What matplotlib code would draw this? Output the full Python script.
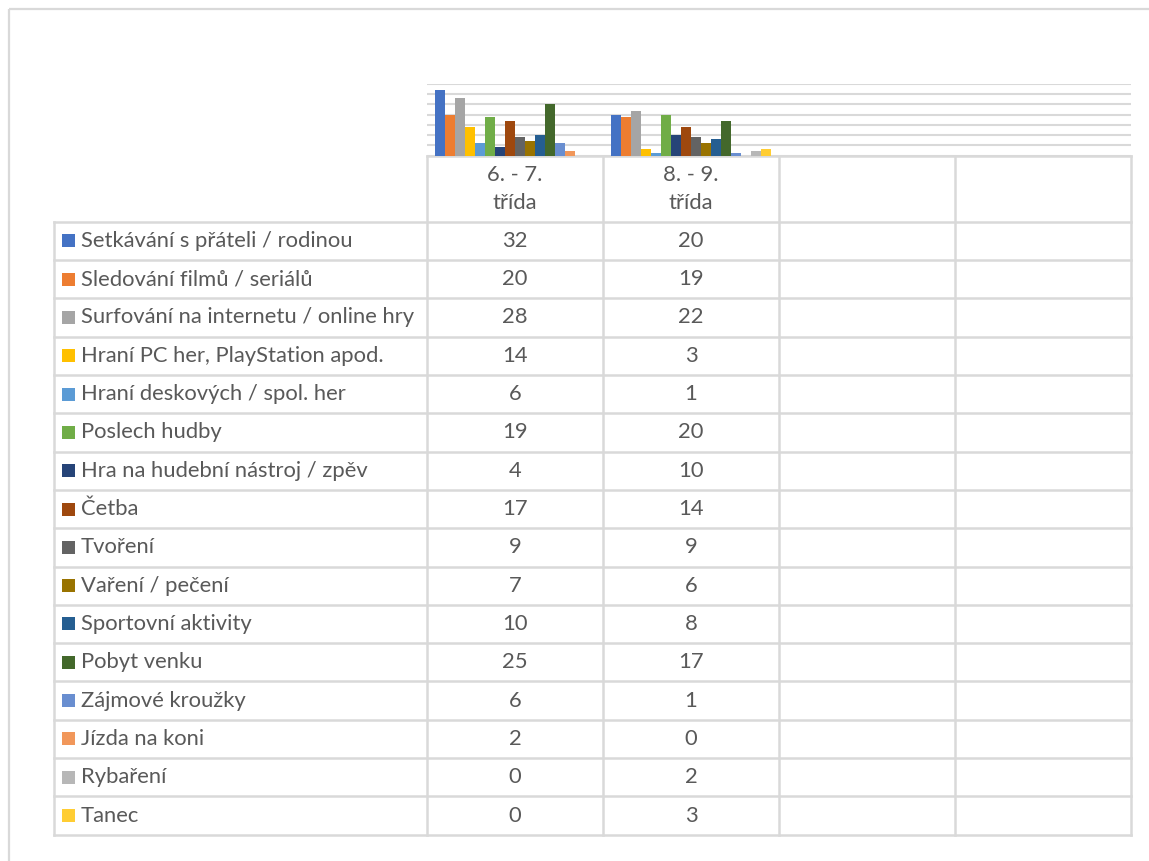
"""Clustered bar chart with an Excel-style data table underneath."""

import matplotlib

matplotlib.use("Agg")
import matplotlib.pyplot as plt
import numpy as np
from matplotlib.patches import Rectangle

W, H = 1149, 861

categories = ["6. - 7.\ntřída", "8. - 9.\ntřída", "", ""]
series_names = [
    "Setkávání s přáteli / rodinou",
    "Sledování filmů / seriálů",
    "Surfování na internetu / online hry",
    "Hraní PC her, PlayStation apod.",
    "Hraní deskových / spol. her",
    "Poslech hudby",
    "Hra na hudební nástroj / zpěv",
    "Četba",
    "Tvoření",
    "Vaření / pečení",
    "Sportovní aktivity",
    "Pobyt venku",
    "Zájmové kroužky",
    "Jízda na koni",
    "Rybaření",
    "Tanec",
]
grade_6_7 = [32, 20, 28, 14, 6, 19, 4, 17, 9, 7, 10, 25, 6, 2, 0, 0]
grade_8_9 = [20, 19, 22, 3, 1, 20, 10, 14, 9, 6, 8, 17, 1, 0, 2, 3]

colors = [
    "#4472C4", "#ED7D31", "#A5A5A5", "#FFC000", "#5B9BD5", "#70AD47",
    "#264478", "#9E480E", "#636363", "#997300", "#255E91", "#43682B",
    "#698ED0", "#F1975A", "#B7B7B7", "#FFCD33",
]

TEXT = "#595959"
LINE = "#D9D9D9"
plt.rcParams["font.family"] = ["Lato", "DejaVu Sans"]
FS = 15.8


def px_axes(fig, x0, y0, x1, y1, **kw):
    """Add an axes given pixel box (top-left origin)."""
    return fig.add_axes([x0 / W, 1 - y1 / H, (x1 - x0) / W, (y1 - y0) / H], **kw)


fig = plt.figure(figsize=(W / 100, H / 100), dpi=100)

# overlay in pixel coordinates for the frame and the data table
ov = px_axes(fig, 0, 0, W, H)
ov.set_xlim(0, W)
ov.set_ylim(H, 0)
ov.axis("off")
ov.add_patch(Rectangle((9, 9), W + 20, H + 20, fill=False, ec=LINE, lw=1.6))

# bars
x_left, x_right, y_top, y_bot = 427, 1131, 84, 155.5
ax = px_axes(fig, x_left, y_top, x_right, y_bot)
n_cat = len(categories)
values = np.full((len(series_names), n_cat), np.nan)
values[:, 0] = grade_6_7
values[:, 1] = grade_8_9
bar_w = 0.91 / len(series_names)
x = np.arange(n_cat)
for i, (name, col) in enumerate(zip(series_names, colors)):
    offs = -0.455 + bar_w * (i + 0.5)
    ax.bar(x + offs, values[i], width=bar_w, color=col, label=name, zorder=3)
ax.set_xlim(-0.5, n_cat - 0.5)
ax.set_ylim(0, 35)
ax.set_yticks(np.arange(0, 36, 5))
ax.grid(axis="y", color=LINE, lw=1.5, zorder=0)
ax.tick_params(left=False, bottom=False, labelleft=False, labelbottom=False)
for s in ax.spines.values():
    s.set_visible(False)

# data table
col_edges = np.linspace(x_left, x_right, n_cat + 1)
tbl_left = 54
head_top, head_bot = 156, 221.7
row_h = (834.7 - head_bot) / len(series_names)
tbl_bot = head_bot + row_h * len(series_names)

ov.plot([x_left, x_right], [head_top, head_top], color=LINE, lw=1.8)
for xe in col_edges:
    ov.plot([xe, xe], [head_top, tbl_bot], color=LINE, lw=1.8)
ov.plot([tbl_left, tbl_left], [head_bot, tbl_bot], color=LINE, lw=1.8)
for r in range(len(series_names) + 1):
    yy = head_bot + r * row_h
    ov.plot([tbl_left, x_right], [yy, yy], color=LINE, lw=1.8)

for c, cat in enumerate(categories):
    cx = (col_edges[c] + col_edges[c + 1]) / 2
    for k, line in enumerate(cat.split("\n")):
        if line:
            ov.text(cx, 175 + 28 * k, line, ha="center", va="center",
                    fontsize=FS, color=TEXT)

for r, (name, col) in enumerate(zip(series_names, colors)):
    cy = head_bot + (r + 0.5) * row_h
    ov.add_patch(Rectangle((62, cy - 6.5), 13, 13, color=col, lw=0))
    ov.text(81, cy, name, ha="left", va="center", fontsize=FS, color=TEXT)
    for c in range(n_cat):
        v = values[r, c]
        if not np.isnan(v):
            cx = (col_edges[c] + col_edges[c + 1]) / 2
            ov.text(cx, cy, f"{int(v)}", ha="center", va="center",
                    fontsize=FS, color=TEXT)

fig.savefig("out.png", dpi=100)
